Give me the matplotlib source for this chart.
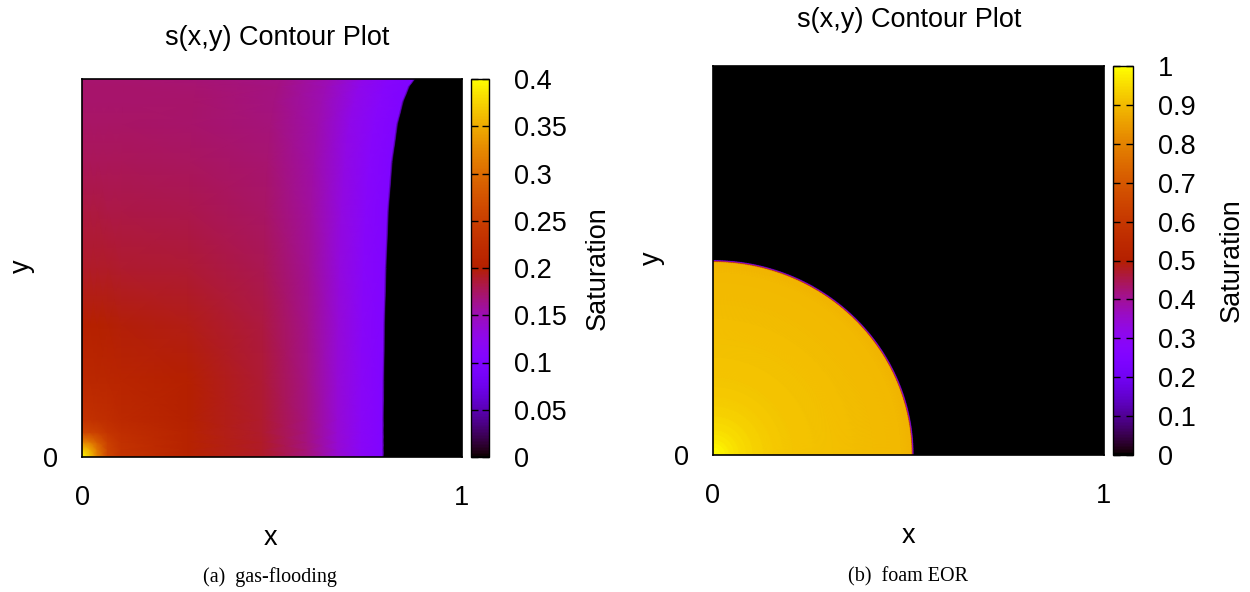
import numpy as np
import matplotlib
matplotlib.use("Agg")
import matplotlib.pyplot as plt

plt.rcParams['font.family'] = ['Liberation Sans', 'DejaVu Sans']

# ---- (a) gas-flooding: saturation rows, columns given as fraction of the front position
a_rows_y = [0.0, 0.02, 0.04, 0.065, 0.1, 0.2, 0.35, 0.5, 0.65, 0.78, 0.88, 0.94, 0.98, 1.0]
a_front_x = [0.79, 0.79, 0.79, 0.79, 0.79, 0.791, 0.793, 0.797, 0.803, 0.813, 0.827, 0.842,
             0.858, 0.873]
a_frac = [0.0, 0.025, 0.05, 0.085, 0.13, 0.35, 0.6, 0.75, 0.85, 0.93, 0.99, 1.0]
a_sat = [
    [0.40, 0.37, 0.32, 0.26, 0.235, 0.208, 0.19, 0.168, 0.14, 0.118, 0.104, 0.10],
    [0.37, 0.35, 0.31, 0.255, 0.233, 0.207, 0.19, 0.168, 0.139, 0.117, 0.104, 0.10],
    [0.32, 0.31, 0.285, 0.25, 0.23, 0.206, 0.19, 0.167, 0.139, 0.117, 0.104, 0.10],
    [0.26, 0.255, 0.25, 0.235, 0.225, 0.205, 0.189, 0.167, 0.138, 0.117, 0.104, 0.10],
    [0.232, 0.23, 0.228, 0.224, 0.218, 0.203, 0.189, 0.166, 0.138, 0.116, 0.104, 0.10],
    [0.215, 0.215, 0.214, 0.213, 0.21, 0.2, 0.187, 0.165, 0.137, 0.116, 0.104, 0.10],
    [0.2, 0.2, 0.2, 0.199, 0.198, 0.194, 0.184, 0.163, 0.136, 0.115, 0.104, 0.10],
    [0.19, 0.19, 0.19, 0.19, 0.189, 0.186, 0.179, 0.16, 0.134, 0.114, 0.104, 0.10],
    [0.183, 0.183, 0.183, 0.182, 0.182, 0.18, 0.175, 0.157, 0.132, 0.113, 0.103, 0.10],
    [0.178, 0.178, 0.178, 0.177, 0.177, 0.176, 0.171, 0.154, 0.13, 0.112, 0.103, 0.10],
    [0.175, 0.175, 0.175, 0.174, 0.174, 0.173, 0.168, 0.152, 0.128, 0.111, 0.103, 0.10],
    [0.173, 0.173, 0.173, 0.173, 0.173, 0.172, 0.167, 0.151, 0.127, 0.111, 0.103, 0.10],
    [0.172, 0.172, 0.172, 0.172, 0.172, 0.171, 0.166, 0.15, 0.126, 0.11, 0.102, 0.10],
    [0.171, 0.171, 0.171, 0.171, 0.171, 0.17, 0.165, 0.15, 0.126, 0.11, 0.102, 0.10],
]
a_ticks = [0, 0.05, 0.1, 0.15, 0.2, 0.25, 0.3, 0.35, 0.4]

# ---- (b) foam EOR: radial profile inside the quarter-circle front
b_front_x = 0.512
b_front_y = 0.50
b_frac = [0.0, 0.04, 0.08, 0.13, 0.2, 0.3, 0.4, 0.6, 0.8, 0.94, 0.992, 0.996, 1.0, 1.005, 3.0]
b_sat = [1.0, 0.99, 0.972, 0.956, 0.94, 0.925, 0.915, 0.907, 0.902, 0.898, 0.89, 0.6, 0.3,
         0.0, 0.0]
b_ticks = [0, 0.1, 0.2, 0.3, 0.4, 0.5, 0.6, 0.7, 0.8, 0.9, 1.0]

W, H = 1250, 592
fig = plt.figure(figsize=(12.5, 5.92), dpi=100)


def px_axes(l, t, r, b):
    return fig.add_axes([l / W, 1 - b / H, (r - l) / W, (b - t) / H])


def style_main(ax):
    ax.set_xlim(0, 1)
    ax.set_ylim(0, 1)
    ax.set_xticks([0, 1])
    ax.set_xticklabels(['0', '1'])
    ax.set_yticks([0])
    ax.set_yticklabels(['0'])
    ax.tick_params(axis='x', length=0, pad=20, labelsize=19.5)
    ax.tick_params(axis='y', length=0, pad=17, labelsize=19.5)
    for s in ax.spines.values():
        s.set_linewidth(1.2)


def style_cbar(cb, ticks):
    cb.set_ticks(ticks)
    cb.set_ticklabels(['%g' % t for t in ticks])
    cb.ax.tick_params(axis='y', direction='in', length=5, width=1, left=True, right=True,
                      labelleft=False, labelright=True, pad=18, labelsize=19.5)
    cb.outline.set_linewidth(1.0)


# panel (a)
ax1 = px_axes(82, 79, 462, 457)
Xa, Ya, Ca = [], [], []
for y, fx, row in zip(a_rows_y, a_front_x, a_sat):
    Xa.append([f * fx for f in a_frac] + [fx + 0.006, 1.0])
    Ya.append([y] * (len(a_frac) + 2))
    Ca.append(list(row) + [0.0, 0.0])
m1 = ax1.pcolormesh(np.array(Xa), np.array(Ya), np.array(Ca), shading='gouraud',
                    cmap='gnuplot', vmin=0, vmax=0.4)
style_main(ax1)
cax1 = px_axes(471, 79, 489, 457)
cb1 = fig.colorbar(m1, cax=cax1)
style_cbar(cb1, a_ticks)

# panel (b)
ax2 = px_axes(713, 66, 1104, 455)
theta = np.linspace(0, np.pi / 2, 181)
R, T = np.meshgrid(np.array(b_frac), theta)
Xb = R * b_front_x * np.cos(T)
Yb = R * b_front_y * np.sin(T)
Cb = np.tile(np.array(b_sat), (len(theta), 1))
m2 = ax2.pcolormesh(Xb, Yb, Cb, shading='gouraud', cmap='gnuplot', vmin=0, vmax=1)
style_main(ax2)
cax2 = px_axes(1113, 66, 1133, 455)
cb2 = fig.colorbar(m2, cax=cax2)
style_cbar(cb2, b_ticks)

# titles, axis labels, captions
fs = 19.5
fig.text(277 / W, 1 - 38 / H, 's(x,y) Contour Plot', ha='center', va='center', fontsize=fs)
fig.text(909 / W, 1 - 20 / H, 's(x,y) Contour Plot', ha='center', va='center', fontsize=fs)
fig.text(22 / W, 1 - 266 / H, 'y', rotation=90, ha='center', va='center', fontsize=fs)
fig.text(652 / W, 1 - 258 / H, 'y', rotation=90, ha='center', va='center', fontsize=fs)
fig.text(270 / W, 1 - 538 / H, 'x', ha='center', va='center', fontsize=fs)
fig.text(908 / W, 1 - 536 / H, 'x', ha='center', va='center', fontsize=fs)
fig.text(598 / W, 1 - 268 / H, 'Saturation', rotation=90, ha='center', va='center', fontsize=fs)
fig.text(1232 / W, 1 - 260 / H, 'Saturation', rotation=90, ha='center', va='center', fontsize=fs)
fig.text(270 / W, 1 - 577 / H, '(a)  gas-flooding', ha='center', va='center', fontsize=14.5,
         family=['Liberation Serif', 'DejaVu Serif'])
fig.text(908 / W, 1 - 577 / H, '(b)  foam EOR', ha='center', va='center', fontsize=14.5,
         family=['Liberation Serif', 'DejaVu Serif'])

fig.savefig('out.png', dpi=100)
